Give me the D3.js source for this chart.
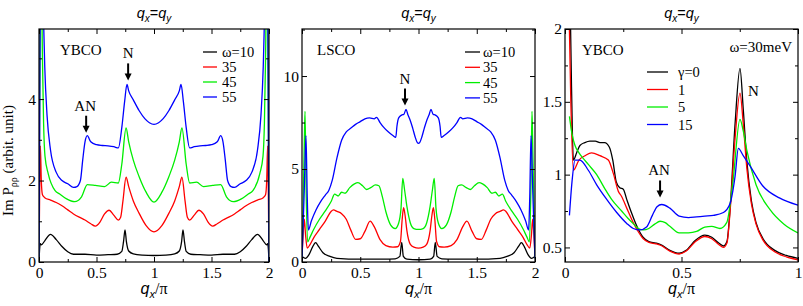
<!DOCTYPE html>
<html>
<head>
<meta charset="utf-8">
<script src="https://cdn.jsdelivr.net/npm/d3@7"></script>
<style>
  body { margin: 0; background: #fff; }
  svg { display: block; }
</style>
</head>
<body>
<svg id="chart" width="803" height="306" font-family="Liberation Serif, Times New Roman, serif"></svg>
<script>
// ---- data: [q_x/pi, Im P] ----
// panel 1, YBCO, different omega
const ybcoW10 = [[0,0],[0.005,0.3],[0.012,0.45],[0.02,0.42],[0.05,0.52],[0.1,0.68],[0.15,0.55],[0.2,0.38],[0.25,0.25],[0.3,0.19],[0.4,0.19],[0.5,0.17],[0.6,0.18],[0.68,0.19],[0.72,0.26],[0.735,0.5],[0.748,0.79],[0.76,0.5],[0.78,0.27],[0.82,0.2],[0.9,0.17],[1,0.16],
  [1.1,0.17],[1.18,0.2],[1.22,0.27],[1.24,0.5],[1.252,0.79],[1.265,0.5],[1.28,0.26],[1.32,0.19],[1.4,0.18],[1.5,0.17],[1.6,0.19],[1.7,0.19],[1.75,0.25],[1.8,0.38],[1.85,0.55],[1.9,0.68],[1.95,0.52],[1.98,0.42],[1.988,0.45],[1.995,0.3],[2,0]];
const ybcoW35 = [[0,0],[0.005,1.5],[0.012,2.85],[0.02,2.0],[0.03,1.65],[0.05,1.58],[0.1,1.52],[0.15,1.46],[0.2,1.38],[0.25,1.28],[0.3,1.18],[0.35,1.1],[0.4,1.03],[0.45,0.94],[0.49,0.88],[0.53,0.98],[0.57,1.18],[0.61,1.27],[0.65,1.15],[0.69,1.03],[0.71,1.1],[0.73,1.5],[0.757,2.08],[0.78,1.85],[0.82,1.5],[0.87,1.2],[0.93,0.9],[1,0.74],
  [1.07,0.9],[1.13,1.2],[1.18,1.5],[1.22,1.85],[1.243,2.08],[1.27,1.5],[1.29,1.1],[1.31,1.03],[1.35,1.15],[1.39,1.27],[1.43,1.18],[1.47,0.98],[1.51,0.88],[1.55,0.94],[1.6,1.03],[1.65,1.1],[1.7,1.18],[1.75,1.28],[1.8,1.38],[1.85,1.46],[1.9,1.52],[1.95,1.58],[1.97,1.65],[1.98,2.0],[1.988,2.85],[1.995,1.5],[2,0]];
const ybcoW45 = [[0,0],[0.005,3],[0.012,6.5],[0.02,7],[0.03,5],[0.04,3.4],[0.052,2.6],[0.08,2.17],[0.14,1.75],[0.18,1.67],[0.24,1.55],[0.31,1.48],[0.37,1.6],[0.42,1.9],[0.49,1.88],[0.57,1.85],[0.63,1.96],[0.69,1.94],[0.72,2.4],[0.757,3.29],[0.78,2.95],[0.82,2.5],[0.87,2.1],[0.93,1.72],[1,1.47],
  [1.07,1.72],[1.13,2.1],[1.18,2.5],[1.22,2.95],[1.243,3.29],[1.28,2.4],[1.31,1.94],[1.37,1.96],[1.43,1.85],[1.51,1.88],[1.58,1.9],[1.63,1.6],[1.69,1.48],[1.76,1.55],[1.82,1.67],[1.86,1.75],[1.92,2.17],[1.948,2.6],[1.96,3.4],[1.97,5],[1.98,7],[1.988,6.5],[1.995,3],[2,0]];
const ybcoW55 = [[0,0],[0.005,3],[0.012,7],[0.02,8],[0.03,7],[0.04,5.9],[0.05,4.8],[0.07,3.6],[0.1,2.75],[0.15,2.2],[0.2,2.0],[0.25,1.92],[0.3,1.83],[0.33,1.85],[0.36,2.0],[0.38,2.5],[0.4,2.95],[0.42,3.1],[0.45,2.95],[0.5,2.88],[0.55,2.86],[0.6,2.85],[0.65,2.83],[0.69,2.8],[0.72,3.3],[0.745,3.95],[0.765,4.36],[0.78,4.2],[0.82,3.98],[0.87,3.72],[0.92,3.52],[0.96,3.42],[1,3.38],
  [1.04,3.42],[1.08,3.52],[1.13,3.72],[1.18,3.98],[1.22,4.2],[1.235,4.36],[1.255,3.95],[1.28,3.3],[1.31,2.8],[1.35,2.83],[1.4,2.85],[1.45,2.86],[1.5,2.88],[1.55,2.95],[1.58,3.1],[1.6,2.95],[1.62,2.5],[1.64,2.0],[1.67,1.85],[1.7,1.83],[1.75,1.92],[1.8,2.0],[1.85,2.2],[1.9,2.75],[1.93,3.6],[1.95,4.8],[1.96,5.9],[1.97,7],[1.98,8],[1.988,7],[1.995,3],[2,0]];

// panel 2, LSCO, different omega
const lscoW10 = [[0,0.3],[0.03,0.2],[0.06,0.4],[0.09,0.8],[0.117,1.04],[0.14,0.85],[0.18,0.5],[0.24,0.3],[0.3,0.2],[0.5,0.15],[0.7,0.15],[0.8,0.17],[0.84,0.3],[0.856,1.05],[0.87,0.3],[0.9,0.15],[1,0.12],
  [1.1,0.15],[1.13,0.3],[1.144,1.05],[1.16,0.3],[1.2,0.17],[1.3,0.15],[1.5,0.15],[1.7,0.2],[1.76,0.3],[1.82,0.5],[1.86,0.85],[1.883,1.04],[1.91,0.8],[1.94,0.4],[1.97,0.2],[2,0.3]];
const lscoW35 = [[0,0.3],[0.01,1.5],[0.02,2.3],[0.03,1.5],[0.045,0.75],[0.07,0.95],[0.1,1.3],[0.15,1.75],[0.2,2.2],[0.25,2.72],[0.27,2.8],[0.3,2.72],[0.34,2.6],[0.38,2.3],[0.42,1.7],[0.46,1.22],[0.5,1.25],[0.54,1.65],[0.585,2.2],[0.62,1.9],[0.67,1.2],[0.72,0.88],[0.78,0.8],[0.82,0.82],[0.845,1.1],[0.86,2.3],[0.872,2.92],[0.885,2.5],[0.9,1.7],[0.93,0.95],[0.96,0.8],[1,0.75],
  [1.04,0.8],[1.07,0.95],[1.1,1.7],[1.115,2.5],[1.128,2.92],[1.14,2.3],[1.155,1.1],[1.18,0.82],[1.22,0.8],[1.28,0.88],[1.33,1.2],[1.38,1.9],[1.415,2.2],[1.46,1.65],[1.5,1.25],[1.54,1.22],[1.58,1.7],[1.62,2.3],[1.66,2.6],[1.7,2.72],[1.73,2.8],[1.75,2.72],[1.8,2.2],[1.85,1.75],[1.9,1.3],[1.93,0.95],[1.955,0.75],[1.97,1.5],[1.98,2.3],[1.99,1.5],[2,0.3]];
const lscoW45 = [[0,0.2],[0.01,3],[0.02,6.5],[0.026,8.1],[0.035,4],[0.048,1.08],[0.07,1.35],[0.1,1.75],[0.15,2.3],[0.2,2.75],[0.25,3.25],[0.28,3.65],[0.31,3.55],[0.34,3.75],[0.37,3.7],[0.41,4.0],[0.45,4.2],[0.48,4.27],[0.52,4.1],[0.555,3.9],[0.59,4.0],[0.63,4.15],[0.66,4.1],[0.69,3.5],[0.72,2.7],[0.76,2.0],[0.8,1.8],[0.83,2.1],[0.85,2.9],[0.865,4.5],[0.88,3.9],[0.9,3.0],[0.93,2.1],[0.96,1.8],[1,1.75],
  [1.04,1.8],[1.07,2.1],[1.1,3.0],[1.12,3.9],[1.135,4.5],[1.15,2.9],[1.17,2.1],[1.2,1.8],[1.24,2.0],[1.28,2.7],[1.31,3.5],[1.34,4.1],[1.37,4.15],[1.41,4.0],[1.445,3.9],[1.48,4.1],[1.52,4.27],[1.55,4.2],[1.59,4.0],[1.63,3.7],[1.66,3.75],[1.69,3.55],[1.72,3.65],[1.75,3.25],[1.8,2.75],[1.85,2.3],[1.9,1.75],[1.93,1.35],[1.952,1.08],[1.965,4],[1.974,8.1],[1.98,6.5],[1.99,3],[2,0.2]];
const lscoW55 = [[0,0.2],[0.01,2],[0.02,4],[0.034,6.8],[0.045,3.5],[0.055,1.72],[0.08,2.2],[0.12,2.8],[0.16,3.25],[0.2,3.6],[0.23,3.85],[0.26,4.4],[0.3,5.6],[0.34,6.55],[0.38,7.0],[0.42,7.2],[0.46,7.4],[0.5,7.55],[0.54,7.7],[0.58,7.75],[0.62,7.7],[0.64,7.78],[0.67,7.5],[0.7,7.25],[0.74,7.0],[0.78,6.8],[0.805,6.7],[0.815,7.3],[0.83,7.75],[0.855,7.9],[0.875,7.95],[0.893,8.2],[0.91,7.9],[0.93,7.6],[0.95,7.2],[0.97,6.75],[0.99,6.42],[1,6.38],
  [1.01,6.42],[1.03,6.75],[1.05,7.2],[1.07,7.6],[1.09,7.9],[1.107,8.2],[1.125,7.95],[1.145,7.9],[1.17,7.75],[1.185,7.3],[1.195,6.7],[1.22,6.8],[1.26,7.0],[1.3,7.25],[1.33,7.5],[1.36,7.78],[1.38,7.7],[1.42,7.75],[1.46,7.7],[1.5,7.55],[1.54,7.4],[1.58,7.2],[1.62,7.0],[1.66,6.55],[1.7,5.6],[1.74,4.4],[1.77,3.85],[1.8,3.6],[1.84,3.25],[1.88,2.8],[1.92,2.2],[1.945,1.72],[1.955,3.5],[1.966,6.8],[1.98,4],[1.99,2],[2,0.2]];

// panel 3, YBCO, omega = 30 meV, different gamma
const gamma0 = [[0.02,2.4],[0.028,1.6],[0.036,1.1],[0.05,1.15],[0.064,1.2],[0.085,1.22],[0.107,1.23],[0.13,1.23],[0.15,1.22],[0.17,1.22],[0.19,1.19],[0.205,1.1],[0.22,0.95],[0.235,0.91],[0.25,0.9],[0.265,0.83],[0.285,0.74],[0.31,0.64],[0.335,0.57],[0.36,0.54],[0.39,0.53],[0.41,0.52],[0.45,0.48],[0.49,0.46],[0.52,0.48],[0.56,0.55],[0.6,0.585],[0.63,0.57],[0.66,0.53],[0.68,0.51],[0.695,0.54],[0.71,0.8],[0.73,1.35],[0.751,1.73],[0.765,1.45],[0.78,1.1],[0.8,0.82],[0.82,0.67],[0.85,0.56],[0.9,0.48],[0.95,0.445],[1,0.425]];
const gamma1 = [[0.014,2.4],[0.025,1.5],[0.036,1.03],[0.06,1.1],[0.086,1.13],[0.114,1.15],[0.15,1.13],[0.186,1.1],[0.207,1.01],[0.229,0.885],[0.243,0.85],[0.265,0.77],[0.29,0.68],[0.31,0.62],[0.336,0.56],[0.36,0.535],[0.39,0.525],[0.41,0.515],[0.45,0.475],[0.49,0.455],[0.52,0.475],[0.56,0.54],[0.6,0.575],[0.63,0.56],[0.66,0.52],[0.68,0.5],[0.695,0.53],[0.71,0.78],[0.73,1.25],[0.751,1.56],[0.765,1.35],[0.78,1.05],[0.8,0.8],[0.82,0.66],[0.85,0.55],[0.9,0.47],[0.95,0.435],[1,0.415]];
const gamma5 = [[0.019,1.4],[0.03,1.28],[0.043,1.2],[0.06,1.15],[0.079,1.11],[0.1,1.07],[0.136,1.0],[0.172,0.9],[0.2,0.83],[0.243,0.75],[0.27,0.7],[0.295,0.66],[0.315,0.63],[0.336,0.62],[0.36,0.63],[0.385,0.66],[0.408,0.68],[0.43,0.67],[0.45,0.645],[0.49,0.6],[0.53,0.6],[0.565,0.61],[0.6,0.64],[0.63,0.645],[0.665,0.63],[0.694,0.67],[0.72,0.94],[0.751,1.38],[0.765,1.3],[0.78,1.17],[0.82,0.93],[0.88,0.76],[0.94,0.66],[1,0.6]];
const gamma15 = [[0.019,0.72],[0.03,0.95],[0.043,1.1],[0.064,1.1],[0.1,1.03],[0.136,0.93],[0.179,0.83],[0.222,0.74],[0.265,0.665],[0.293,0.63],[0.322,0.62],[0.35,0.64],[0.375,0.72],[0.395,0.78],[0.415,0.795],[0.45,0.77],[0.49,0.715],[0.53,0.705],[0.565,0.71],[0.6,0.715],[0.637,0.72],[0.68,0.74],[0.708,0.8],[0.73,0.99],[0.744,1.18],[0.765,1.13],[0.794,1.06],[0.85,0.92],[0.92,0.84],[1,0.79]];

const omegaLabels = ["\u03c9=10", "35", "45", "55"];
const gammaLabels = ["\u03b3=0", "1", "5", "15"];
const seriesColors = ["#000000", "#ff0000", "#00ee00", "#0000ff"];

const ybcoYTicks = [0, 2, 4];
const lscoYTicks = [0, 5, 10];
const gammaYTicks = [0.5, 1, 1.5, 2];
const fullXTicks = [0, 0.5, 1, 1.5, 2];
const halfXTicks = [0, 0.5, 1];

// ---- layout ----
const SERIF = "Liberation Serif";
const SANS = "Liberation Sans";
const svg = d3.select("#chart");
const plotTop = 29, plotBottom = 262;

const panels = [
  { x0: 39, x1: 269, xDomain: [0, 2], yDomain: [0, 5.72], xTicks: fullXTicks, xStep: 0.25,
    yTicks: ybcoYTicks, yStep: 1, series: [ybcoW10, ybcoW35, ybcoW45, ybcoW55], labels: omegaLabels,
    name: "YBCO", nameX: 21, legend: { x: 164, y: 23, len: 14, gap: 5, dy: 15 } },
  { x0: 302, x1: 535, xDomain: [0, 2], yDomain: [0, 12.53], xTicks: fullXTicks, xStep: 0.25,
    yTicks: lscoYTicks, yStep: 2.5, series: [lscoW10, lscoW35, lscoW45, lscoW55], labels: omegaLabels,
    name: "LSCO", nameX: 15, legend: { x: 163, y: 23, len: 15, gap: 3, dy: 15.3 } },
  { x0: 565, x1: 798, xDomain: [0, 1], yDomain: [0.4, 2], xTicks: halfXTicks, xStep: 0.25,
    yTicks: gammaYTicks, yStep: 0.25, series: [gamma0, gamma1, gamma5, gamma15], labels: gammaLabels,
    name: "YBCO", nameX: 17, legend: { x: 82, y: 43, len: 21, gap: 10, dy: 17.5 } }
];

const fmt = d => String(d);

function subText(sel, parts) {
  parts.forEach(p => {
    const t = sel.append("tspan").text(p.t);
    if (p.italic) t.attr("font-style", "italic");
    if (p.size) t.attr("font-size", p.size);
    if (p.dy) t.attr("dy", p.dy);
    if (p.family) t.attr("font-family", p.family);
  });
}

function arrow(g, x, yTip, len) {
  g.append("line").attr("x1", x).attr("x2", x)
    .attr("y1", yTip - len).attr("y2", yTip - 5)
    .attr("stroke", "#000").attr("stroke-width", 2);
  g.append("path")
    .attr("d", `M${x - 3.5},${yTip - 7}L${x + 3.5},${yTip - 7}L${x},${yTip}Z`)
    .attr("fill", "#000");
}

panels.forEach((p, pi) => {
  const w = p.x1 - p.x0, h = plotBottom - plotTop;
  const x = d3.scaleLinear().domain(p.xDomain).range([0, w]);
  const y = d3.scaleLinear().domain(p.yDomain).range([h, 0]);
  p.x = x; p.y = y;

  const g = svg.append("g").attr("transform", `translate(${p.x0},${plotTop})`);
  p.g = g;

  const clipId = "clip" + pi;
  g.append("clipPath").attr("id", clipId)
    .append("rect").attr("width", w).attr("height", h);

  // curves
  const line = d3.line()
    .x(d => x(d[0])).y(d => y(d[1]))
    .curve(d3.curveMonotoneX);
  const curves = g.append("g").attr("clip-path", `url(#${clipId})`);
  p.series.forEach((s, i) => {
    curves.append("path").datum(s)
      .attr("fill", "none")
      .attr("stroke", seriesColors[i])
      .attr("stroke-width", 1.3)
      .attr("stroke-linejoin", "round")
      .attr("d", line);
  });

  // ticks on all four sides, pointing inward
  const xMinor = d3.range(p.xDomain[0], p.xDomain[1] + 1e-9, p.xStep).filter(v => !p.xTicks.some(t => Math.abs(t - v) < 1e-9));
  const yStart = Math.ceil(p.yDomain[0] / p.yStep) * p.yStep;
  const yMinor = d3.range(yStart, p.yDomain[1] + 1e-9, p.yStep).filter(v => !p.yTicks.some(t => Math.abs(t - v) < 1e-9));

  const axes = [
    [d3.axisBottom, `translate(0,${h})`, p.xTicks, xMinor, x, true, 5],
    [d3.axisTop, "translate(0,0)", p.xTicks, xMinor, x, false, 4],
    [d3.axisLeft, "translate(0,0)", p.yTicks, yMinor, y, true, 3],
    [d3.axisRight, `translate(${w},0)`, p.yTicks, yMinor, y, false, 4]
  ];
  axes.forEach(([ax, tr, major, minor, sc, labelled, pad]) => {
    const a = g.append("g").attr("transform", tr)
      .call(ax(sc).tickValues(major).tickSize(-5).tickSizeOuter(0).tickPadding(pad)
        .tickFormat(labelled ? fmt : ""));
    a.attr("font-family", SERIF).attr("font-size", 15.5);
    a.select(".domain").remove();
    const b = g.append("g").attr("transform", tr)
      .call(ax(sc).tickValues(minor).tickSize(-3).tickSizeOuter(0).tickFormat(""));
    b.select(".domain").remove();
  });
  g.selectAll(".tick line").attr("stroke", "#000");

  g.append("rect").attr("width", w).attr("height", h)
    .attr("fill", "none").attr("stroke", "#000").attr("stroke-width", 1.2);

  // material label
  g.append("text").attr("x", p.nameX).attr("y", 26)
    .attr("font-size", 15).text(p.name);

  // legend
  const L = p.legend;
  p.labels.forEach((lab, i) => {
    const ly = L.y + i * L.dy;
    g.append("line").attr("x1", L.x).attr("x2", L.x + L.len)
      .attr("y1", ly).attr("y2", ly)
      .attr("stroke", seriesColors[i]).attr("stroke-width", 1.3);
    g.append("text").attr("x", L.x + L.len + L.gap).attr("y", ly + 5)
      .attr("font-size", 14.5).text(lab);
  });

  // title q_x = q_y
  const title = svg.append("text")
    .attr("x", p.x0 + w / 2).attr("y", 18)
    .attr("text-anchor", "middle")
    .attr("font-family", SANS).attr("font-size", 14.5);
  subText(title, [
    { t: "q", italic: true }, { t: "x", italic: true, size: 10, dy: 3.5 },
    { t: "=", dy: -3.5 }, { t: "q", italic: true }, { t: "y", italic: true, size: 10, dy: 3.5 }
  ]);

  // x axis label q_x / pi
  const xl = svg.append("text")
    .attr("x", p.x0 + w / 2).attr("y", 294)
    .attr("text-anchor", "middle")
    .attr("font-family", SANS).attr("font-size", 16);
  subText(xl, [
    { t: "q", italic: true }, { t: "x", italic: true, size: 11, dy: 3.5 },
    { t: "/\u03c0", dy: -3.5, family: SERIF }
  ]);
});

// ---- annotations ----
const p1 = panels[0], p2 = panels[1], p3 = panels[2];
function note(p, label, q, v, gapPx, len, textDx) {
  const xx = p.x(q), tip = p.y(v) - gapPx;
  arrow(p.g, xx, tip, len);
  p.g.append("text").attr("x", xx + (textDx || 0)).attr("y", tip - len - 5)
    .attr("text-anchor", "middle").attr("font-size", 15).text(label);
}
note(p1, "N", 0.775, 4.36, 4, 17, 0);
note(p1, "AN", 0.41, 3.1, 3, 17, -1);
note(p2, "N", 0.884, 8.2, 4, 17, 0);
note(p3, "AN", 0.408, 0.795, 7, 17, -1);

p3.g.append("text").attr("x", p3.x(0.785)).attr("y", 67)
  .attr("font-size", 15).text("N");
p3.g.append("text").attr("x", p3.x1 - p3.x0 - 6).attr("y", 23)
  .attr("text-anchor", "end").attr("font-size", 15).text("\u03c9=30meV");

// y axis label
const yl = svg.append("text")
  .attr("transform", `translate(13,${(plotTop + plotBottom) / 2 + 15}) rotate(-90)`)
  .attr("text-anchor", "middle").attr("font-size", 15);
subText(yl, [
  { t: "Im P" }, { t: "\u03c1\u03c1", size: 10, dy: 4 }, { t: "  (arbit. unit)", dy: -4 }
]);
</script>
</body>
</html>
